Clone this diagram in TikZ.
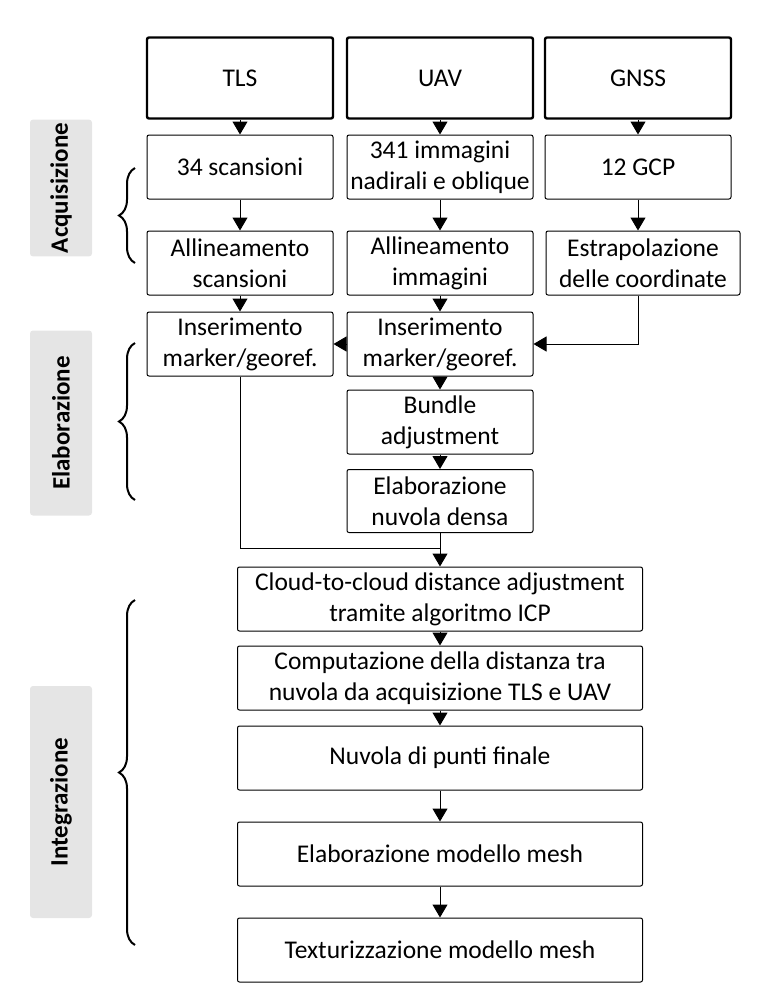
\documentclass[tikz,border=0pt]{standalone}
\usepackage{fontspec}
\setmainfont{Carlito}
\usetikzlibrary{arrows.meta,decorations.pathreplacing}
\begin{document}
\begin{tikzpicture}[x=1pt,y=-1pt,
  box/.style={draw=black,line width=1pt,rounded corners=2pt,align=center,inner sep=1pt,font=\fontsize{25.5}{31}\selectfont},
  src/.style={box,line width=2.4pt},
  phase/.style={fill=black!10,rounded corners=3pt,font=\bfseries\fontsize{25}{28}\selectfont,rotate=90},
  arr/.style={-{Triangle[length=13pt,width=15pt]},line width=1pt},
  brc/.style={decorate,decoration={brace,amplitude=16pt},line width=2pt}]
\useasboundingbox (0,0) rectangle (766,1005);
% sources
\node[src,minimum width=186,minimum height=81] (tls) at (240,78) {TLS};
\node[src,minimum width=186,minimum height=81] (uav) at (440,78) {UAV};
\node[src,minimum width=186,minimum height=81] (gnss) at (638,78) {GNSS};
% acquisition
\node[box,minimum width=186,minimum height=64] (scan) at (240,167) {34 scansioni};
\node[box,minimum width=186,minimum height=64] (img) at (440,167) {341 immagini\\nadirali e oblique};
\node[box,minimum width=186,minimum height=64] (gcp) at (638,167) {12 GCP};
\node[box,minimum width=186,minimum height=64] (alls) at (240,263) {Allineamento\\scansioni};
\node[box,minimum width=186,minimum height=64] (alli) at (440,263) {Allineamento\\immagini};
\node[box,minimum width=194,minimum height=64] (estr) at (643,263) {Estrapolazione\\delle coordinate};
% processing
\node[box,minimum width=186,minimum height=64] (insl) at (240,344) {Inserimento\\marker/georef.};
\node[box,minimum width=186,minimum height=64] (insm) at (440,344) {Inserimento\\marker/georef.};
\node[box,minimum width=186,minimum height=64] (bund) at (440,422) {Bundle\\adjustment};
\node[box,minimum width=186,minimum height=63] (dens) at (440,501) {Elaborazione\\nuvola densa};
% integration
\node[box,minimum width=405,minimum height=64] (icp) at (440,599) {Cloud-to-cloud distance adjustment\\tramite algoritmo ICP};
\node[box,minimum width=405,minimum height=64] (dist) at (440,678) {Computazione della distanza tra\\nuvola da acquisizione TLS e UAV};
\node[box,minimum width=405,minimum height=64] (fin) at (440,758) {Nuvola di punti finale};
\node[box,minimum width=405,minimum height=64] (mesh) at (440,854) {Elaborazione modello mesh};
\node[box,minimum width=405,minimum height=64] (text) at (440,950) {Texturizzazione modello mesh};
% connectors
\draw[arr] (tls) -- (scan);
\draw[arr] (scan) -- (alls);
\draw[arr] (alls) -- (insl);
\draw[arr] (uav) -- (img);
\draw[arr] (img) -- (alli);
\draw[arr] (alli) -- (insm);
\draw[arr] (gnss) -- (gcp);
\draw[arr] (gcp) -- (estr.north -| gcp);
\draw[arr] (estr.south -| gcp) |- (insm.east);
\draw[arr] (insm) -- (insl);
\draw[arr] (insm) -- (bund);
\draw[arr] (bund) -- (dens);
\coordinate (join) at (440,548);
\draw[line width=1pt] (insl) |- (join);
\draw[arr] (dens) -- (icp);
\draw[arr] (icp) -- (dist);
\draw[arr] (dist) -- (fin);
\draw[arr] (fin) -- (mesh);
\draw[arr] (mesh) -- (text);
% phases
\node[phase,minimum width=129,minimum height=62] (acq) at (61,188) {Acquisizione};
\node[phase,minimum width=185,minimum height=62] (ela) at (61,423) {Elaborazione};
\node[phase,minimum width=232,minimum height=62] (int) at (61,802) {Integrazione};
\draw[brc] (135,263) -- (135,168);
\draw[brc] (135,500) -- (135,343);
\draw[brc] (135,945) -- (135,600);
\end{tikzpicture}
\end{document}
